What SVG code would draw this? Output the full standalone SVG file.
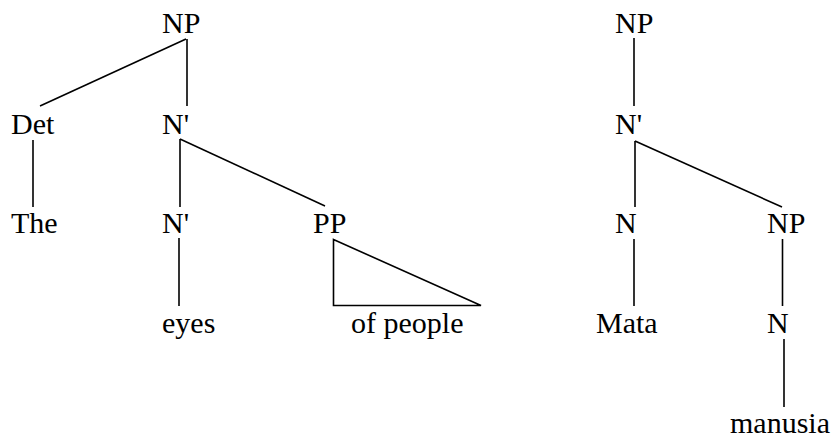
<svg xmlns="http://www.w3.org/2000/svg" width="838" height="439" viewBox="0 0 838 439">
<style>
.t text{font-size:30px;fill:#000}
.e line,.e polygon{stroke:#000;stroke-width:1.6;fill:none}
</style>
<rect width="838" height="439" fill="#fff"/>
<g class="e" id="connectors">
<line x1="186" y1="39" x2="40" y2="106"/>
<line x1="187" y1="39" x2="187" y2="106"/>
<line x1="33" y1="140" x2="33" y2="207"/>
<line x1="180" y1="139" x2="180" y2="207"/>
<line x1="180" y1="139" x2="325" y2="206"/>
<line x1="179" y1="238" x2="179" y2="306"/>
<polygon points="333.5,239.5 333.5,305.5 481,305.5"/>
<line x1="634" y1="38" x2="634" y2="106"/>
<line x1="635" y1="141" x2="635" y2="207"/>
<line x1="635" y1="141" x2="782" y2="207"/>
<line x1="634" y1="239" x2="634" y2="306"/>
<line x1="782.5" y1="239" x2="782.5" y2="306"/>
<line x1="784" y1="339" x2="784" y2="407"/>
</g>
<g class="t" font-family="'Liberation Serif', 'Times New Roman', 'DejaVu Serif', serif">
<g id="np1"><text x="162" y="33">NP</text></g>
<g id="det"><text x="11" y="134">Det</text></g>
<g id="nbar1"><text x="162" y="134">N'</text></g>
<g id="the"><text x="11" y="233">The</text></g>
<g id="nbar2"><text x="162" y="233">N'</text></g>
<g id="pp"><text x="313" y="233">PP</text></g>
<g id="eyes"><text x="162" y="333">eyes</text></g>
<g id="ofpeople"><text x="351" y="333">of people</text></g>
<g id="np2"><text x="615" y="33">NP</text></g>
<g id="nbar3"><text x="615" y="134">N'</text></g>
<g id="n1"><text x="615" y="233">N</text></g>
<g id="np3"><text x="767" y="233">NP</text></g>
<g id="mata"><text x="596" y="333">Mata</text></g>
<g id="n2"><text x="767" y="333">N</text></g>
<g id="manusia"><text x="730" y="433">manusia</text></g>
</g>
</svg>
